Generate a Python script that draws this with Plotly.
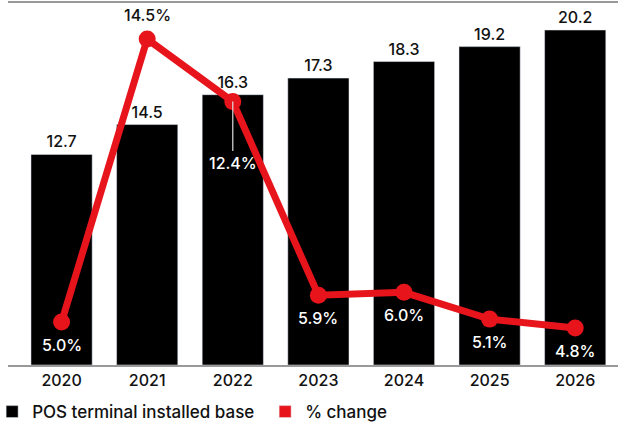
import plotly.graph_objects as go

years = ["2020", "2021", "2022", "2023", "2024", "2025", "2026"]
installed_base = [12.7, 14.5, 16.3, 17.3, 18.3, 19.2, 20.2]
pct_change = [5.0, 14.5, 12.4, 5.9, 6.0, 5.1, 4.8]
pct_labels = ["5.0%", "14.5%", "12.4%", "5.9%", "6.0%", "5.1%", "4.8%"]

FONT = "Inter"
RED = "#e8141c"

fig = go.Figure()
fig.add_trace(go.Bar(
    x=years, y=installed_base, name="POS terminal installed base",
    marker=dict(color="#000000"),
    text=[f"{v:.1f}" for v in installed_base], textposition="outside",
    textfont=dict(family=FONT, size=16, color="#111", weight=500),
    cliponaxis=False,
))
fig.add_trace(go.Bar(
    x=[None], y=[None], name="% change", marker=dict(color=RED), showlegend=True,
))
fig.add_trace(go.Scatter(
    x=years, y=pct_change, yaxis="y2", mode="lines+markers",
    line=dict(color=RED, width=7), marker=dict(color=RED, size=17),
    showlegend=False, cliponaxis=False,
))

annotations = []
for i in range(len(years)):
    v, lab = pct_change[i], pct_labels[i]
    if i == 1:
        annotations.append(dict(x=i, y=v, xref="x", yref="y2", text=lab, showarrow=False,
                                yshift=24, font=dict(family=FONT, size=16, color="#111", weight=500)))
    elif i == 2:
        annotations.append(dict(x=i, y=v, xref="x", yref="y2", text=lab, showarrow=True,
                                arrowhead=0, arrowwidth=1.2, arrowcolor="#dddddd",
                                ax=0, ay=61,
                                font=dict(family=FONT, size=16, color="#ffffff", weight=500)))
    else:
        annotations.append(dict(x=i, y=v, xref="x", yref="y2", text=lab, showarrow=False,
                                yshift=-23, font=dict(family=FONT, size=16, color="#ffffff", weight=500)))

hidden_axis = dict(showgrid=False, showline=False, zeroline=False, showticklabels=False,
                   ticks="", automargin=False)

fig.update_layout(
    width=623, height=423,
    margin=dict(l=8, r=5, t=3, b=58, autoexpand=False),
    paper_bgcolor="white", plot_bgcolor="white",
    bargap=0.285, barmode="overlay",
    xaxis=dict(type="category", range=[-0.626, 6.5], showgrid=False, showline=True, mirror=True,
               linecolor="#999999", linewidth=2, ticks="", automargin=False,
               tickfont=dict(family=FONT, size=16, color="#111", weight=500)),
    yaxis=dict(range=[0, 21.83], **hidden_axis),
    yaxis2=dict(range=[3.56, 15.71], overlaying="y", side="right", **hidden_axis),
    legend=dict(orientation="h", x=-0.026, y=-0.13, xanchor="left", yanchor="middle",
                font=dict(family=FONT, size=17, color="#111", weight=500),
                entrywidth=228, itemclick=False),
    annotations=annotations,
    showlegend=True,
)
fig.write_html("out.html", config={"displayModeBar": False},
               post_script="document.body.style.margin='0';")
